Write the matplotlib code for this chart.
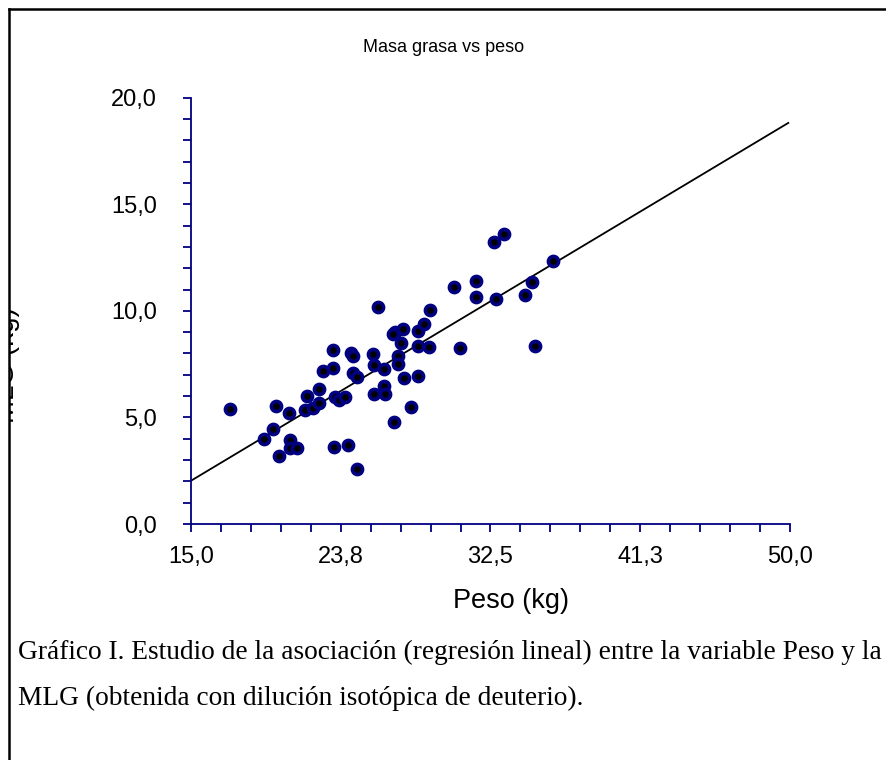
import matplotlib
matplotlib.use("Agg")
import matplotlib.pyplot as plt
from matplotlib.lines import Line2D
from matplotlib.transforms import Bbox, TransformedBbox
import numpy as np

# ---- data ----
peso = [17.28, 19.29, 19.81, 19.97, 20.16, 20.71, 20.79, 20.79, 21.22, 21.67,
        21.80, 22.12, 22.45, 22.47, 22.74, 23.28, 23.28, 23.36, 23.42, 23.67,
        23.99, 24.20, 24.36, 24.49, 24.46, 24.69, 24.69, 25.66, 25.72, 25.72,
        25.92, 26.25, 26.29, 26.35, 26.89, 26.93, 26.83, 27.38, 27.12, 27.07,
        27.27, 27.47, 27.87, 28.29, 28.26, 28.59, 28.29, 28.88, 28.94, 30.38,
        30.73, 31.63, 31.63, 32.72, 33.30, 32.84, 34.53, 34.94, 35.12, 36.15]
mlg = [5.40, 4.01, 4.44, 5.54, 3.18, 5.20, 3.94, 3.57, 3.57, 5.35,
       6.01, 5.46, 5.70, 6.32, 7.18, 8.17, 7.32, 3.60, 5.98, 5.82,
       5.98, 3.71, 8.01, 7.86, 7.07, 6.92, 2.58, 7.97, 7.46, 6.10,
       10.16, 7.28, 6.49, 6.09, 4.80, 9.03, 8.92, 9.14, 7.86, 7.50,
       8.48, 6.84, 5.48, 8.33, 9.06, 9.38, 6.96, 8.30, 10.03, 11.14,
       8.25, 11.38, 10.67, 13.23, 13.62, 10.56, 10.75, 11.35, 8.37, 12.32]
fit_intercept = -5.185
fit_slope = 0.481
fit_x = [15.0, 49.9]

x_major = [15.0, 23.75, 32.5, 41.25, 50.0]
x_major_labels = ["15,0", "23,8", "32,5", "41,3", "50,0"]
y_major = [0.0, 5.0, 10.0, 15.0, 20.0]
y_major_labels = ["0,0", "5,0", "10,0", "15,0", "20,0"]

title = "Masa grasa vs peso"
xlabel = "Peso (kg)"
ylabel = "MLG (kg)"
caption1 = "Gráfico I. Estudio de la asociación (regresión lineal) entre la variable Peso y la"
caption2 = "MLG (obtenida con dilución isotópica de deuterio)."

# ---- figure ----
W, H = 887, 760
fig = plt.figure(figsize=(W / 100, H / 100), dpi=100)
fig.patch.set_facecolor("white")
plt.rcParams["font.family"] = ["Liberation Sans", "DejaVu Sans"]

navy = "#000080"
ax = fig.add_axes([191 / W, 1 - 524 / H, 599 / W, 426.3 / H])
ax.set_xlim(15, 50)
ax.set_ylim(0, 20)
for s in ["top", "right"]:
    ax.spines[s].set_visible(False)
for s in ["left", "bottom"]:
    ax.spines[s].set_color(navy)
    ax.spines[s].set_linewidth(1.3)
ax.set_xticks(x_major)
ax.set_xticklabels(x_major_labels)
ax.set_yticks(y_major)
ax.set_yticklabels(y_major_labels)
ax.set_xticks(np.arange(15, 50.01, 1.75), minor=True)
ax.set_yticks(np.arange(0, 20.01, 1.0), minor=True)
ax.tick_params(which="both", direction="out", color=navy, width=1.3, length=5.5,
               labelsize=17, labelcolor="black")
ax.tick_params(axis="x", which="major", pad=10.5)
ax.tick_params(axis="y", which="major", pad=19)

# regression line
fx = np.array(fit_x)
ax.plot(fx, fit_intercept + fit_slope * fx, color="black", lw=1.3, zorder=2)

# points
ax.plot(peso, mlg, linestyle="none", marker="o", markersize=7.3,
        markerfacecolor="black", markeredgecolor=navy, markeredgewidth=2.6,
        zorder=3, clip_on=False)

# title / axis labels
fig.text(444 / W, 1 - 48 / H, title, ha="center", va="center", fontsize=13)
fig.text(511 / W, 1 - 601 / H, xlabel, ha="center", va="center", fontsize=19.5)
yl = fig.text(7 / W, 1 - 365 / H, ylabel, ha="center", va="center", fontsize=20,
              rotation=90)
yl.set_clip_on(True)
yl.set_clip_box(TransformedBbox(Bbox([[10.5 / W, 0], [1, 1]]), fig.transFigure))

# caption
fig.text(18 / W, 1 - 652 / H, caption1, ha="left", va="center", fontsize=19.7,
         family=["Liberation Serif", "DejaVu Serif"])
fig.text(18 / W, 1 - 698 / H, caption2, ha="left", va="center", fontsize=19.7,
         family=["Liberation Serif", "DejaVu Serif"])

# frame (top and left)
fig.add_artist(Line2D([9 / W, 9 / W], [0, 1 - 9 / H], transform=fig.transFigure,
                      color="black", lw=1.8, solid_capstyle="projecting"))
fig.add_artist(Line2D([9 / W, 1], [1 - 9 / H, 1 - 9 / H], transform=fig.transFigure,
                      color="black", lw=1.8, solid_capstyle="projecting"))

fig.savefig("out.png", dpi=100)
